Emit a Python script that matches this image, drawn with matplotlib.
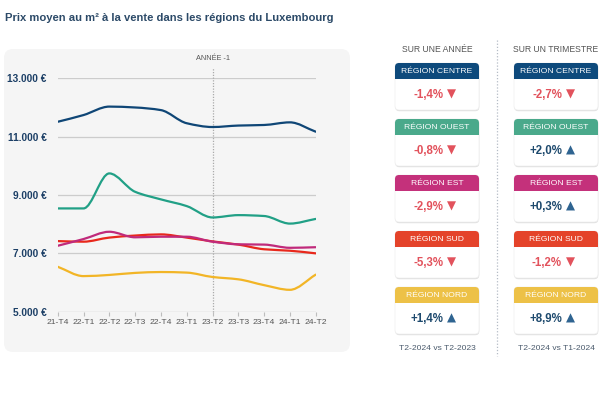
import numpy as np
import matplotlib
matplotlib.use("Agg")
import matplotlib.pyplot as plt
from matplotlib.path import Path
from matplotlib.patches import PathPatch, FancyBboxPatch, Rectangle

plt.rcParams['font.family'] = ['Liberation Sans', 'DejaVu Sans']

# ---------------- data ----------------
quarters = ["21-T4", "22-T1", "22-T2", "22-T3", "22-T4", "23-T1",
            "23-T2", "23-T3", "23-T4", "24-T1", "24-T2"]
centre = [11510, 11740, 12030, 12000, 11910, 11460, 11330, 11380, 11400, 11490, 11170]
ouest = [8540, 8540, 9740, 9110, 8850, 8620, 8230, 8310, 8280, 8020, 8180]
est = [7260, 7490, 7740, 7550, 7570, 7570, 7400, 7310, 7300, 7190, 7210]
sud = [7420, 7400, 7540, 7610, 7650, 7540, 7410, 7300, 7140, 7090, 7000]
nord = [6540, 6220, 6260, 6330, 6360, 6340, 6190, 6110, 5910, 5750, 6270]
yticks = [5000, 7000, 9000, 11000, 13000]
ytick_labels = ["5.000 €", "7.000 €", "9.000 €", "11.000 €", "13.000 €"]
marker_label = "ANNÉE -1"
marker_index = 6

regions = ["RÉGION CENTRE", "RÉGION OUEST", "RÉGION EST", "RÉGION SUD", "RÉGION NORD"]
year_change = ["-1,4%", "-0,8%", "-2,9%", "-5,3%", "+1,4%"]
quarter_change = ["-2,7%", "+2,0%", "+0,3%", "-1,2%", "+8,9%"]
col_titles = ["SUR UNE ANNÉE", "SUR UN TRIMESTRE"]
col_footers = ["T2-2024 vs T2-2023", "T2-2024 vs T1-2024"]
title = "Prix moyen au m² à la vente dans les régions du Luxembourg"

line_colors = {"centre": "#0f4676", "ouest": "#21a086", "est": "#c02a7b",
               "sud": "#e8281c", "nord": "#f2b526"}
header_colors = ["#0e4a7c", "#4aa98b", "#c4317b", "#e4432a", "#edc147"]

# ---------------- figure ----------------
W, H = 600, 396
fig = plt.figure(figsize=(6, 3.96), dpi=100)
fig.patch.set_facecolor("white")

bg = fig.add_axes([0, 0, 1, 1], zorder=0)
bg.set_xlim(0, W)
bg.set_ylim(H, 0)
bg.axis("off")

# title
bg.text(5, 18, title, fontsize=8.1, fontweight="bold", color="#2c4a68",
        va="center", ha="left")

# chart panel
bg.add_patch(FancyBboxPatch((4, 49), 346, 303, boxstyle="round,pad=0,rounding_size=9",
                            facecolor="#f5f5f5", edgecolor="none"))

# chart axes
x0, x1 = 57.7, 315.7
ytop, ybot = 78.3, 311.7
ax = fig.add_axes([x0 / W, 1 - ybot / H, (x1 - x0) / W, (ybot - ytop) / H], zorder=1)
ax.patch.set_alpha(0)
ax.set_xlim(0, len(quarters) - 1)
ax.set_ylim(5000, 13000)
for s in ax.spines.values():
    s.set_visible(False)
for v in yticks[1:]:
    ax.axhline(v, color="#cccccc", lw=0.9, zorder=0)
ax.axhline(yticks[0], color="#bdbdbd", lw=0.9, zorder=0)
ax.set_yticks(yticks)
ax.set_yticklabels(ytick_labels, fontsize=7.3, fontweight="bold", color="#1c3f66")
ax.tick_params(axis="y", length=0, pad=8)
ax.set_xticks(range(len(quarters)))
ax.set_xticklabels(quarters, fontsize=6.1, color="#555555")
ax.tick_params(axis="x", length=3, color="#bdbdbd", width=0.8, pad=2)

# vertical dotted marker
ax.plot([marker_index, marker_index], [5000, 13350], color="#aaaaaa", lw=0.9,
        ls=(0, (1, 1.2)), clip_on=False, zorder=1)
ax.text(marker_index, 13550, marker_label, fontsize=5.3, color="#555555",
        ha="center", va="bottom")


def monotone_path(xs, ys):
    xs = np.asarray(xs, float)
    ys = np.asarray(ys, float)
    n = len(xs)
    h = np.diff(xs)
    d = np.diff(ys) / h
    m = np.zeros(n)
    m[0], m[-1] = d[0], d[-1]
    for i in range(1, n - 1):
        if d[i - 1] * d[i] <= 0:
            m[i] = 0
        else:
            m[i] = 3 * (h[i - 1] + h[i]) / ((2 * h[i] + h[i - 1]) / d[i - 1] + (h[i] + 2 * h[i - 1]) / d[i])
    verts = [(xs[0], ys[0])]
    codes = [Path.MOVETO]
    for i in range(n - 1):
        verts += [(xs[i] + h[i] / 3, ys[i] + m[i] * h[i] / 3),
                  (xs[i + 1] - h[i] / 3, ys[i + 1] - m[i + 1] * h[i] / 3),
                  (xs[i + 1], ys[i + 1])]
        codes += [Path.CURVE4] * 3
    return Path(verts, codes)


xs = np.arange(len(quarters))
for key, series in [("nord", nord), ("sud", sud), ("est", est), ("ouest", ouest), ("centre", centre)]:
    ax.add_patch(PathPatch(monotone_path(xs, series), facecolor="none",
                           edgecolor=line_colors[key], lw=1.6, capstyle="round",
                           joinstyle="round", zorder=3))

# ---------------- cards ----------------
col_x = [395, 514]
card_w = 84
card_tops = [63, 119, 175, 231, 287]
header_h = 16
card_h = 47
neg_color = "#e2525c"
pos_color = "#1e4a6e"
pos_tri = "#2f6491"

for ci, (cx, ctitle, footer) in enumerate(zip(col_x, col_titles, col_footers)):
    center = cx + card_w / 2
    bg.text(center, 49, ctitle, fontsize=6.2, color="#555555", ha="center", va="center")
    bg.text(center, 349, footer, fontsize=6.1, color="#4a5a6c", ha="center", va="center")
    changes = year_change if ci == 0 else quarter_change
    for ri, top in enumerate(card_tops):
        # shadow
        bg.add_patch(FancyBboxPatch((cx + 0.3, top + 1.2), card_w, card_h,
                                    boxstyle="round,pad=0,rounding_size=4",
                                    facecolor="#d9d9d9", edgecolor="none", alpha=0.8))
        bg.add_patch(FancyBboxPatch((cx, top), card_w, card_h,
                                    boxstyle="round,pad=0,rounding_size=4",
                                    facecolor="white", edgecolor="#eeeeee", lw=0.5))
        bg.add_patch(FancyBboxPatch((cx, top), card_w, header_h,
                                    boxstyle="round,pad=0,rounding_size=4",
                                    facecolor=header_colors[ri], edgecolor="none"))
        bg.add_patch(Rectangle((cx, top + header_h - 5), card_w, 5,
                               facecolor=header_colors[ri], edgecolor="none"))
        bg.text(center, top + header_h / 2 + 0.5, regions[ri], fontsize=6.1,
                color="white", ha="center", va="center")
        val = changes[ri]
        neg = val.startswith("-")
        vcol = neg_color if neg else pos_color
        tri = "▼" if neg else "▲"
        tcol = neg_color if neg else pos_tri
        vy = top + header_h + 15.5
        bg.text(center + 6, vy, val, fontsize=8.3, fontweight="bold", color=vcol,
                ha="right", va="center")
        bg.text(center + 10, vy - 0.5, tri, fontsize=8.5, color=tcol, ha="left", va="center",
                family="DejaVu Sans")

# dotted separator
bg.plot([497, 497], [40, 356], color="#b5bcc6", lw=0.9, ls=(0, (1, 1.5)))

fig.savefig("out.png", dpi=100, facecolor="white")
